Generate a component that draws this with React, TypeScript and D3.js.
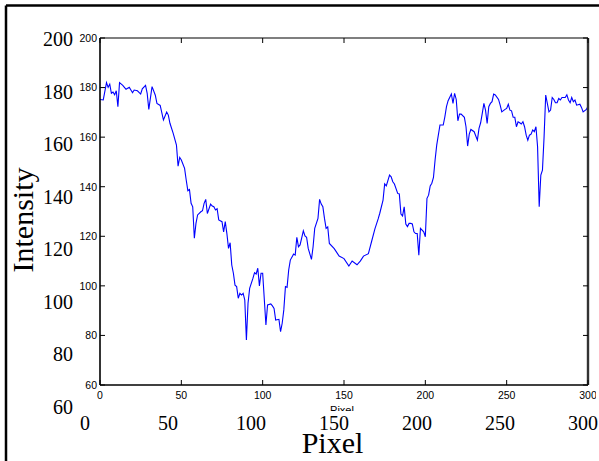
import React from 'react';
import * as d3 from 'd3';

const pixel = [0,2,4,5,6,7,8,9,10,11,12,14,15,16,18,19,20,21,23,25,26,28,29,30,32,34,35,37,39,41,42,43,45,47,48,49,50,52,53,54,55,56,57,58,59,60,62,63,64,65,66,68,69,70,71,72,73,75,76,77,78,79,80,81,82,83,84,85,86,87,88,89,90,91,92,94,95,96,97,98,99,100,102,103,105,106,107,108,110,111,112,113,114,115,116,117,119,120,121,122,123,125,126,127,128,130,131,132,134,135,136,137,138,139,140,141,144,147,150,153,155,158,160,162,165,167,169,171,172,174,175,176,178,179,180,181,183,184,185,186,187,188,189,190,191,192,193,194,195,196,197,199,200,201,202,203,204,205,206,207,209,211,212,213,214,216,217,218,219,220,221,222,224,225,226,227,228,230,232,233,234,235,236,237,238,239,240,241,242,243,245,246,247,249,250,251,252,253,254,255,256,257,258,259,260,261,262,263,264,265,266,267,268,269,270,271,272,273,274,276,277,278,279,280,281,282,283,284,286,287,288,289,290,291,292,293,295,296,297,299,300];

const intensity = [175.2,175.0,182.0,180.1,181.4,177.7,178.2,177.1,178.7,172.3,182.0,180.9,180.1,179.3,180.1,179.0,177.9,179.0,178.7,177.4,179.5,180.9,177.7,171.2,180.4,176.9,173.6,172.8,166.9,170.1,168.9,165.6,161.5,156.8,148.3,151.8,150.8,147.4,142.7,138.4,138.9,133.3,131.9,119.2,125.2,128.6,129.9,130.3,133.3,134.9,129.2,133.0,132.2,131.9,130.6,131.1,126.6,125.9,121.8,125.9,121.1,115.1,117.4,108.4,105.1,100.3,99.7,95.0,97.0,96.3,97.0,94.3,78.2,93.0,99.0,103.0,105.3,104.8,107.1,100.0,105.1,105.1,84.2,92.3,92.7,91.9,90.9,86.2,86.5,81.5,84.9,90.3,99.7,99.4,106.4,110.4,112.8,112.4,119.6,115.8,116.5,122.2,120.1,119.6,115.1,110.7,115.8,123.2,127.2,134.9,133.0,131.9,127.2,123.2,123.8,117.1,115.0,112.0,111.0,108.0,110.0,108.5,110.0,112.0,113.0,118.0,123.0,127.0,129.3,134.6,141.1,140.3,144.7,144.0,142.0,141.1,137.3,137.1,129.0,128.2,131.9,124.9,123.9,125.2,125.2,125.0,121.8,121.1,121.1,112.4,123.2,121.8,119.8,135.3,136.6,140.3,141.4,143.8,150.8,156.8,164.9,164.9,168.2,172.3,174.7,177.4,173.6,177.7,175.2,166.6,169.3,169.3,168.0,164.2,156.4,161.2,163.1,162.2,158.8,163.5,165.8,169.6,173.6,170.9,165.5,172.3,173.6,174.3,177.4,177.0,175.2,172.9,170.2,171.2,171.6,173.3,170.9,170.6,168.0,168.0,164.2,166.2,165.8,165.3,166.2,164.2,160.8,158.8,160.8,161.2,162.9,162.2,164.2,156.1,131.9,144.7,146.7,160.1,177.0,170.2,170.9,176.0,175.2,173.9,173.9,175.6,175.0,176.0,176.0,177.1,175.0,173.9,176.0,174.3,175.0,172.9,173.3,172.0,170.2,171.2,172.5];

const xTicks = [0, 50, 100, 150, 200, 250, 300];
const yTicks = [60, 80, 100, 120, 140, 160, 180, 200];

export default function App() {
  const W = 599, H = 461;
  const L = 100, T = 38, R = 588, B = 385;
  const x = d3.scaleLinear().domain([0, 300]).range([L, R]);
  const y = d3.scaleLinear().domain([60, 200]).range([B, T]);
  const xBig = d3.scaleLinear().domain([0, 300]).range([85, 583]);
  const yBig = d3.scaleLinear().domain([60, 200]).range([407, 39]);
  const line = d3.line<number>().x((_, i) => x(pixel[i])).y(d => y(d));
  const serif = '"Liberation Serif", "Times New Roman", serif';
  const sans = '"Liberation Sans", Arial, sans-serif';
  const tl = 5;

  return (
    <svg width={W} height={H} style={{ position: 'absolute', left: 0, top: 0, background: '#fff' }}>
      <defs>
        <clipPath id="clipR"><rect x={0} y={0} width={596} height={H} /></clipPath>
        <clipPath id="clipPix"><rect x={0} y={0} width={W} height={411} /></clipPath>
      </defs>
      <rect x={0} y={0} width={W} height={H} fill="#fff" />
      {/* outer frame */}
      <line x1={6} y1={5.5} x2={W} y2={5.5} stroke="#000" strokeWidth={2.5} />
      <line x1={6} y1={5.5} x2={6} y2={H} stroke="#000" strokeWidth={2.5} />

      {/* data line */}
      <path d={line(intensity) || ''} fill="none" stroke="#0000ff" strokeWidth={1.1} />

      {/* axes box */}
      <line x1={L} y1={T} x2={R} y2={T} stroke="#000" strokeWidth={1.2} />
      <line x1={L} y1={T} x2={L} y2={B} stroke="#000" strokeWidth={1.6} />
      <line x1={L} y1={B} x2={R} y2={B} stroke="#000" strokeWidth={1.6} />
      <line x1={R} y1={T} x2={R} y2={B} stroke="#333" strokeWidth={2.4} />

      {/* ticks */}
      {xTicks.map(t => (
        <g key={'xt' + t}>
          <line x1={x(t)} y1={B} x2={x(t)} y2={B - tl} stroke="#000" strokeWidth={1} />
          <line x1={x(t)} y1={T} x2={x(t)} y2={T + tl} stroke="#000" strokeWidth={1} />
        </g>
      ))}
      {yTicks.map(t => (
        <g key={'yt' + t}>
          <line x1={L} y1={y(t)} x2={L + tl} y2={y(t)} stroke="#000" strokeWidth={1} />
          <line x1={R} y1={y(t)} x2={R - tl} y2={y(t)} stroke="#000" strokeWidth={1} />
        </g>
      ))}

      {/* small tick labels */}
      <g clipPath="url(#clipR)" fontFamily={sans} fontSize={10.5} fill="#000">
        {xTicks.map(t => (
          <text key={'xs' + t} x={x(t)} y={399} textAnchor="middle">{t}</text>
        ))}
        {yTicks.map(t => (
          <text key={'ys' + t} x={97} y={y(t) + 3.8} textAnchor="end">{t}</text>
        ))}
      </g>
      <text x={342} y={413.5} textAnchor="middle" fontFamily={sans} fontSize={11} clipPath="url(#clipPix)">Pixel</text>

      {/* big tick labels */}
      <g fontFamily={serif} fontSize={20} fill="#000">
        {xTicks.map(t => (
          <text key={'xb' + t} x={xBig(t)} y={430} textAnchor="middle">{t}</text>
        ))}
        {yTicks.map(t => (
          <text key={'yb' + t} x={73} y={yBig(t) + 7} textAnchor="end">{t}</text>
        ))}
      </g>
      <text x={332.5} y={453} textAnchor="middle" fontFamily={serif} fontSize={30}>Pixel</text>
      <text transform="translate(33,220) rotate(-90)" textAnchor="middle" fontFamily={serif} fontSize={30}>Intensity</text>
    </svg>
  );
}
